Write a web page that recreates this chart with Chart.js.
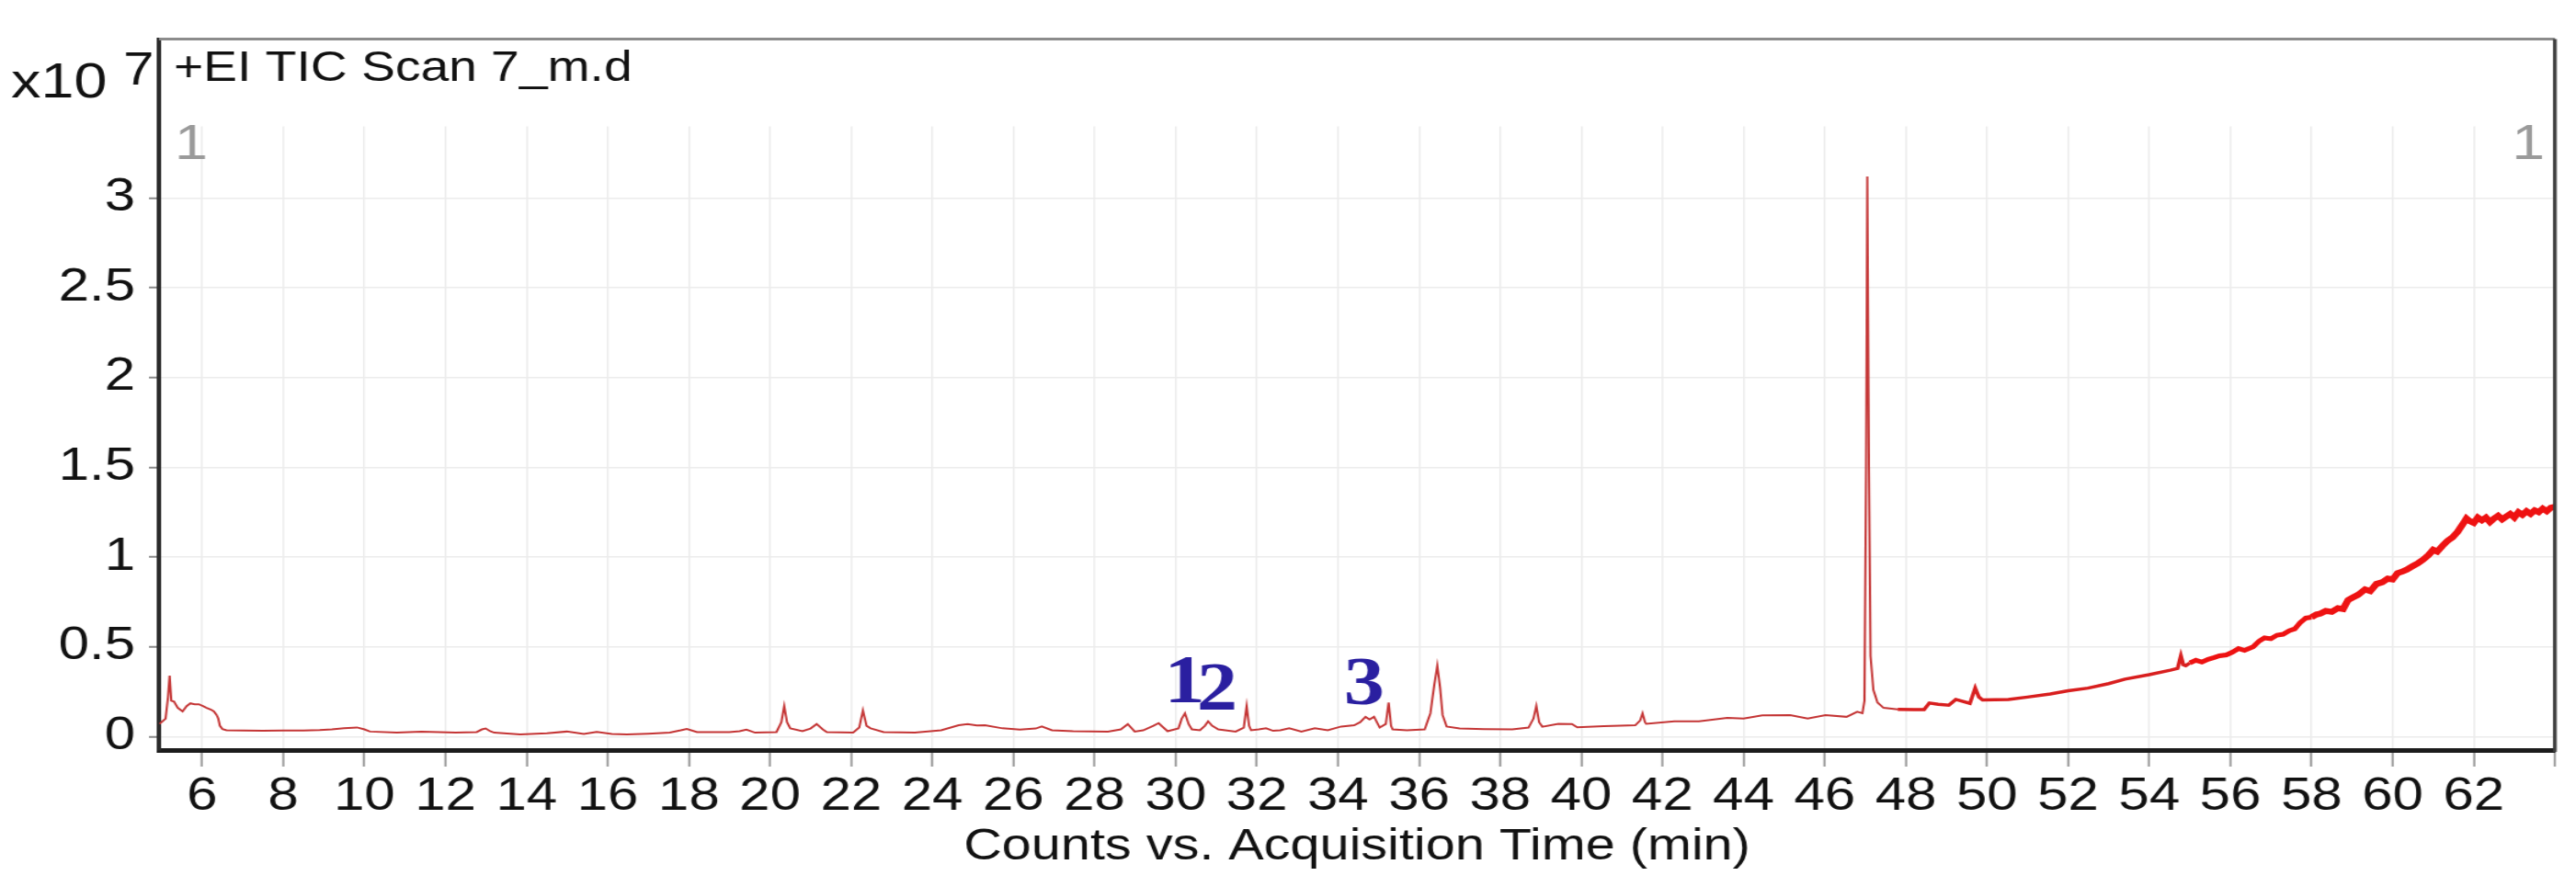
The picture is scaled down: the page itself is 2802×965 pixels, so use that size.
<!DOCTYPE html>
<html>
<head>
<meta charset="utf-8">
<title>+EI TIC Scan 7_m.d</title>
<script src="https://cdn.jsdelivr.net/npm/chart.js@4.4.1/dist/chart.umd.min.js"></script>
<style>
  html, body { margin: 0; padding: 0; background: #fff; overflow: hidden; }
  canvas { display: block; }
</style>
</head>
<body>
<canvas id="tic"></canvas>
<script>
// ── Data (counts in units of 10^7) ─────────────────────────

const times = [
    4.95, 5.10, 5.16, 5.20, 5.24, 5.31, 5.40, 5.52, 5.62, 5.71,
    5.82, 5.92, 6.02, 6.11, 6.22, 6.29, 6.36, 6.40, 6.44, 6.50,
    6.60, 7.00, 7.50, 8.00, 8.50, 8.90, 9.20, 9.50, 9.82, 10.00,
    10.14, 10.80, 11.41, 12.25, 12.77, 12.90, 12.99, 13.10, 13.20, 13.84,
    14.50, 14.99, 15.41, 15.73, 16.10, 16.47, 17.00, 17.53, 17.80, 17.95,
    18.20, 19.00, 19.25, 19.42, 19.63, 20.16, 20.28, 20.35, 20.42, 20.50,
    20.80, 21.00, 21.15, 21.30, 21.40, 22.05, 22.20, 22.29, 22.38, 22.48,
    22.80, 23.57, 24.22, 24.65, 24.87, 25.10, 25.30, 25.73, 26.16, 26.55,
    26.70, 26.95, 27.47, 28.33, 28.65, 28.82, 28.99, 29.20, 29.45, 29.58,
    29.80, 30.07, 30.15, 30.23, 30.32, 30.40, 30.60, 30.72, 30.80, 30.90,
    31.05, 31.48, 31.68, 31.75, 31.81, 31.86, 32.05, 32.23, 32.40, 32.58,
    32.80, 33.10, 33.43, 33.75, 34.08, 34.40, 34.55, 34.68, 34.78, 34.89,
    35.03, 35.18, 35.25, 35.31, 35.35, 35.70, 36.14, 36.28, 36.37, 36.45,
    36.52, 36.58, 36.68, 37.00, 37.60, 38.30, 38.70, 38.82, 38.89, 38.96,
    39.04, 39.43, 39.77, 39.90, 40.56, 41.33, 41.45, 41.51, 41.57, 41.60,
    42.29, 42.90, 43.60, 44.00, 44.46, 45.15, 45.58, 46.02, 46.54, 46.80,
    46.93, 46.98, 47.02, 47.05, 47.09, 47.13, 47.20, 47.30, 47.45, 47.80,
    48.20, 48.45, 48.58, 48.80, 49.06, 49.23, 49.58, 49.71, 49.80, 49.89,
    50.53, 51.00, 51.56, 52.00, 52.49, 53.00, 53.40, 54.00, 54.52, 54.70,
    54.78, 54.84, 54.90, 55.00, 55.15, 55.30, 55.45, 55.60, 55.73, 55.90,
    56.05, 56.20, 56.35, 56.56, 56.70, 56.84, 57.00, 57.15, 57.30, 57.45,
    57.59, 57.72, 57.86, 58.00, 58.12, 58.22, 58.35, 58.50, 58.65, 58.78,
    58.90, 59.02, 59.15, 59.32, 59.45, 59.60, 59.75, 59.88, 60.00, 60.12,
    60.25, 60.35, 60.50, 60.62, 60.75, 60.88, 61.00, 61.10, 61.22, 61.35,
    61.48, 61.60, 61.72, 61.82, 61.90, 62.00, 62.10, 62.20, 62.30, 62.40,
    62.50, 62.60, 62.70, 62.80, 62.90, 63.00, 63.10, 63.20, 63.30, 63.40,
    63.50, 63.60, 63.70, 63.80, 63.90, 64.00
];

const counts = [
    0.07, 0.10, 0.22, 0.34, 0.20, 0.195, 0.16, 0.14, 0.17, 0.185,
    0.18, 0.18, 0.17, 0.16, 0.15, 0.14, 0.12, 0.10, 0.06, 0.042,
    0.035, 0.034, 0.033, 0.034, 0.034, 0.036, 0.04, 0.046, 0.051, 0.04,
    0.028, 0.022, 0.028, 0.022, 0.025, 0.04, 0.045, 0.03, 0.022, 0.012,
    0.018, 0.028, 0.015, 0.026, 0.015, 0.012, 0.016, 0.022, 0.035, 0.043,
    0.025, 0.025, 0.03, 0.039, 0.022, 0.025, 0.08, 0.17, 0.08, 0.046,
    0.03, 0.045, 0.07, 0.04, 0.025, 0.022, 0.05, 0.146, 0.06, 0.046,
    0.025, 0.022, 0.035, 0.063, 0.07, 0.062, 0.063, 0.046, 0.039, 0.045,
    0.056, 0.035, 0.03, 0.028, 0.04, 0.07, 0.028, 0.035, 0.06, 0.075,
    0.03, 0.046, 0.10, 0.13, 0.07, 0.04, 0.035, 0.06, 0.085, 0.06,
    0.04, 0.028, 0.05, 0.17, 0.06, 0.035, 0.04, 0.046, 0.032, 0.035,
    0.046, 0.028, 0.046, 0.035, 0.056, 0.063, 0.08, 0.11, 0.095, 0.11,
    0.05, 0.07, 0.19, 0.06, 0.04, 0.035, 0.04, 0.13, 0.28, 0.395,
    0.27, 0.12, 0.056, 0.045, 0.042, 0.04, 0.05, 0.10, 0.17, 0.08,
    0.055, 0.071, 0.07, 0.052, 0.058, 0.063, 0.09, 0.13, 0.08, 0.071,
    0.085, 0.085, 0.104, 0.10, 0.118, 0.12, 0.10, 0.12, 0.11, 0.138,
    0.13, 0.20, 1.50, 3.12, 1.50, 0.45, 0.26, 0.19, 0.16, 0.152,
    0.15, 0.15, 0.187, 0.18, 0.175, 0.207, 0.185, 0.27, 0.22, 0.204,
    0.207, 0.22, 0.237, 0.255, 0.27, 0.295, 0.32, 0.345, 0.37, 0.38,
    0.45, 0.40, 0.395, 0.41, 0.425, 0.415, 0.43, 0.44, 0.45, 0.455,
    0.47, 0.49, 0.48, 0.50, 0.53, 0.55, 0.545, 0.565, 0.57, 0.59,
    0.60, 0.635, 0.66, 0.665, 0.68, 0.685, 0.70, 0.695, 0.715, 0.71,
    0.76, 0.775, 0.79, 0.82, 0.81, 0.85, 0.86, 0.88, 0.875, 0.91,
    0.92, 0.93, 0.95, 0.965, 0.985, 1.01, 1.04, 1.03, 1.06, 1.09,
    1.11, 1.14, 1.18, 1.215, 1.20, 1.19, 1.22, 1.205, 1.22, 1.195,
    1.215, 1.23, 1.21, 1.225, 1.24, 1.22, 1.25, 1.235, 1.255, 1.24,
    1.26, 1.25, 1.27, 1.255, 1.275, 1.28
];

const xTickValues = [6, 8, 10, 12, 14, 16, 18, 20, 22, 24, 26, 28, 30, 32, 34,
                     36, 38, 40, 42, 44, 46, 48, 50, 52, 54, 56, 58, 60, 62, 64];
const xTickLabels = ['6', '8', '10', '12', '14', '16', '18', '20', '22', '24', '26', '28', '30', '32', '34',
                     '36', '38', '40', '42', '44', '46', '48', '50', '52', '54', '56', '58', '60', '62', ''];
const yTickValues = [0, 0.5, 1, 1.5, 2, 2.5, 3];
const yTickLabels = ['0', '0.5', '1', '1.5', '2', '2.5', '3'];

// compound markers written over the trace
const peakLabels = ['1', '2', '3'];
const peakTimes = [30.22, 31.02, 34.65];
const peakCounts = [0.29, 0.25, 0.28];

const chartTitle = '+EI TIC Scan 7_m.d';
const xTitle = 'Counts vs. Acquisition Time (min)';
const yUnit = 'x10';
const yExponent = '7';
const segmentTag = '1';

// ── Canvas ─────────────────────────────────────────────────

// the source figure is stretched sideways: draw narrower, stretch with CSS
const SX = 1.2;
const W = 2802, H = 965;
const canvas = document.getElementById('tic');
canvas.width = Math.round(W / SX);
canvas.height = H;
canvas.style.width = W + 'px';
canvas.style.height = H + 'px';

const SANS = "'Liberation Sans', Arial, sans-serif";
const SERIF = "'Liberation Serif', 'Times New Roman', serif";

// Plot box, header texts and peak numbers
const boxPlugin = {
    id: 'ticBox',
    beforeDatasetsDraw(chart) {
        const { ctx, chartArea: a } = chart;
        // no grid inside the header band
        ctx.save();
        ctx.fillStyle = '#fff';
        ctx.fillRect(a.left + 3, a.top, a.right - a.left - 6, 95);
        ctx.restore();
    },
    afterDraw(chart) {
        const { ctx, chartArea: a, scales } = chart;
        ctx.save();

        ctx.lineWidth = 3;
        ctx.strokeStyle = '#8c8c8c';
        ctx.beginPath();
        ctx.moveTo(a.left, a.top);
        ctx.lineTo(a.right, a.top);
        ctx.stroke();

        ctx.lineWidth = 4 / SX;
        ctx.strokeStyle = '#3c3c3c';
        ctx.beginPath();
        ctx.moveTo(a.right, a.top);
        ctx.lineTo(a.right, a.bottom + 2);
        ctx.stroke();

        ctx.textBaseline = 'alphabetic';
        ctx.textAlign = 'left';
        ctx.fillStyle = '#111';
        ctx.font = `46px ${SANS}`;
        ctx.fillText(chartTitle, 189 / SX, 88);

        ctx.font = `54px ${SANS}`;
        ctx.fillText(yUnit, 12 / SX, 106);
        ctx.font = `50px ${SANS}`;
        ctx.fillText(yExponent, 134 / SX, 92);

        ctx.fillStyle = '#9a9a9a';
        ctx.font = `54px ${SANS}`;
        ctx.fillText(segmentTag, 190 / SX, 173);
        ctx.textAlign = 'right';
        ctx.fillText(segmentTag, 2768 / SX, 173);

        ctx.fillStyle = '#2a1fa0';
        ctx.font = `bold 74px ${SERIF}`;
        ctx.textAlign = 'center';
        ctx.textBaseline = 'middle';
        peakLabels.forEach((lab, i) => {
            const x = scales.x.getPixelForValue(peakTimes[i]);
            const y = scales.y.getPixelForValue(peakCounts[i]);
            ctx.fillText(lab, x, y);
        });

        ctx.restore();
    }
};

const EARLY = '#c43535', MID = '#d81f1f', LATE = '#ee1212';

function traceWidth(t) {
    if (t < 47.5) return 2;
    if (t < 55) return 3.5;
    if (t < 58) return 5;
    return 6.5;
}

new Chart(canvas, {
    type: 'line',
    data: {
        datasets: [{
            data: times.map((t, i) => ({ x: t, y: counts[i] })),
            borderColor: EARLY,
            borderWidth: 2,
            pointRadius: 0,
            tension: 0,
            fill: false,
            segment: {
                borderWidth: c => traceWidth(c.p0.parsed.x),
                borderColor: c => c.p0.parsed.x < 47.5 ? EARLY : (c.p0.parsed.x < 55 ? MID : LATE)
            }
        }]
    },
    plugins: [boxPlugin],
    options: {
        responsive: false,
        animation: false,
        events: [],
        layout: { padding: { top: 20, right: 23 / SX, left: 0, bottom: 0 } },
        plugins: {
            legend: { display: false },
            tooltip: { enabled: false }
        },
        scales: {
            x: {
                type: 'linear',
                min: 4.94,
                max: 64,
                afterBuildTicks: s => { s.ticks = xTickValues.map(v => ({ value: v })); },
                afterFit: s => { s.height = 149; },
                grid: { color: '#ececec', lineWidth: 1.5, tickLength: 18, tickColor: '#9a9a9a', tickWidth: 2 },
                border: { color: '#1c1c1c', width: 5 },
                ticks: {
                    autoSkip: false,
                    maxRotation: 0,
                    padding: 3,
                    color: '#111',
                    font: { family: SANS, size: 50 },
                    callback: (v, i) => xTickLabels[i]
                },
                title: {
                    display: true,
                    text: xTitle,
                    color: '#111',
                    font: { family: SANS, size: 48 },
                    padding: { top: 0, bottom: 14 }
                }
            },
            y: {
                type: 'linear',
                min: -0.075,
                max: 3.885,
                afterBuildTicks: s => { s.ticks = yTickValues.map(v => ({ value: v })); },
                afterFit: s => { s.width = 173 / SX; },
                grid: { color: '#ececec', lineWidth: 1.5, tickLength: 11 / SX, tickColor: '#8a8a8a', tickWidth: 2 },
                border: { color: '#2a2a2a', width: 4 },
                ticks: {
                    padding: 15 / SX,
                    color: '#111',
                    font: { family: SANS, size: 50 },
                    callback: (v, i) => yTickLabels[i]
                }
            }
        }
    }
});
</script>
</body>
</html>
